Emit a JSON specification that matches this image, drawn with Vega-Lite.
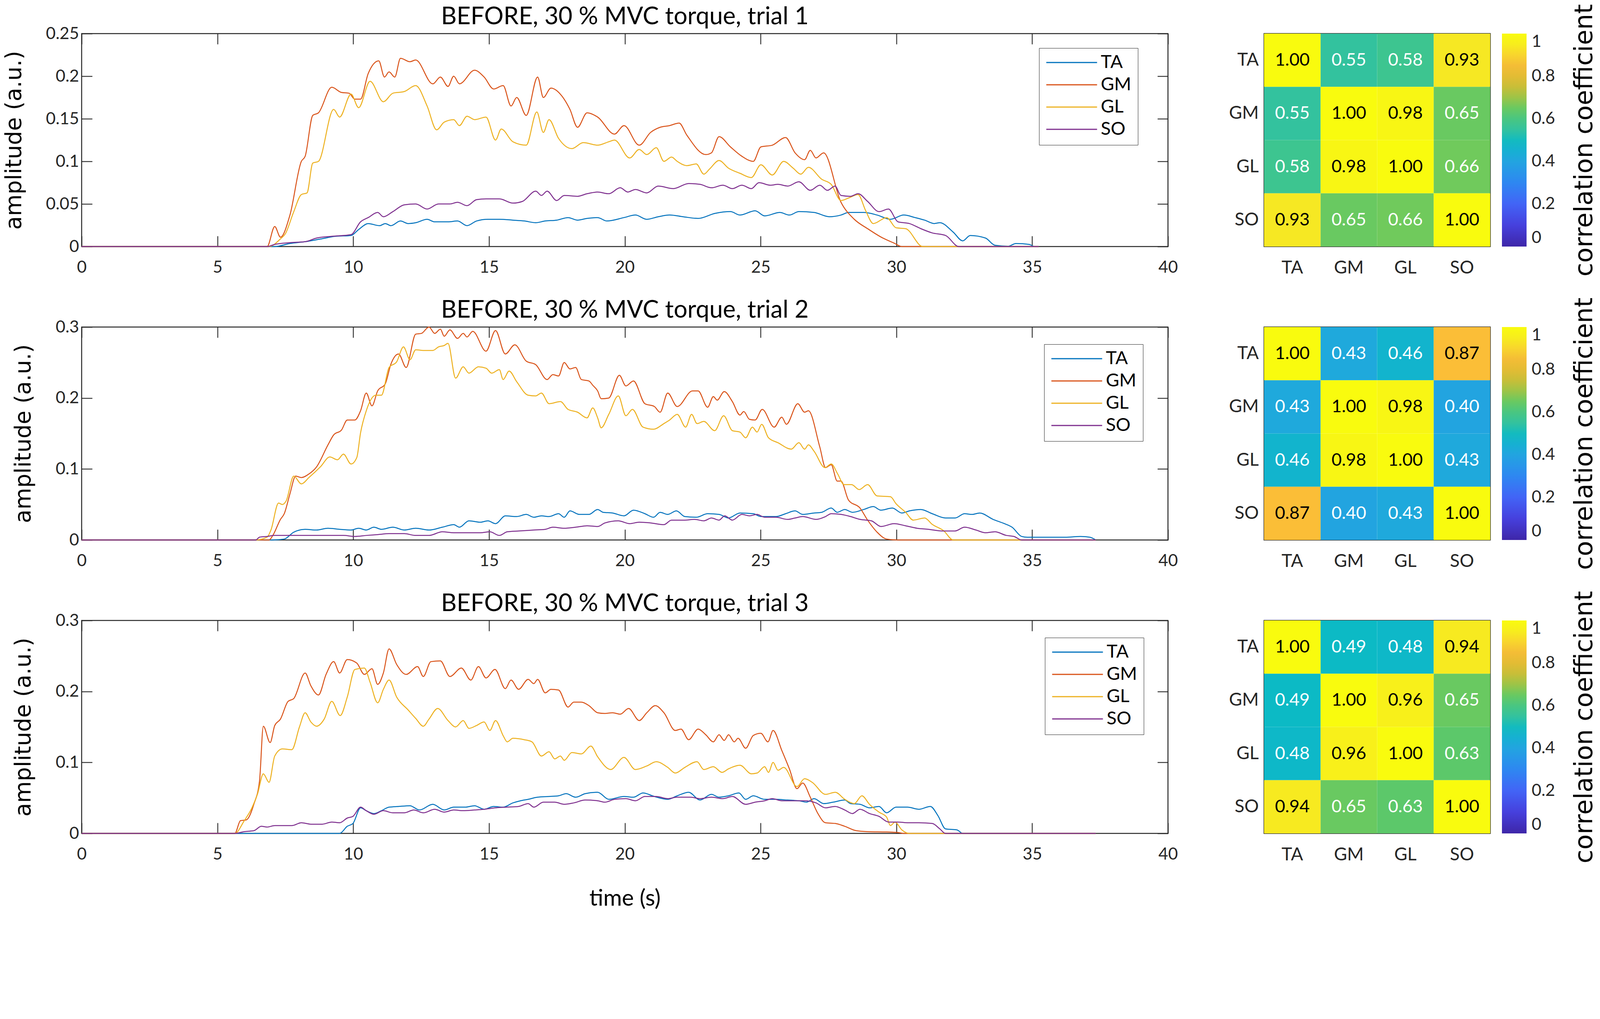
{
  "$schema": "https://vega.github.io/schema/vega-lite/v6.json",
  "background": "white",
  "padding": {"left": 5, "top": 10, "right": 0, "bottom": 0},
  "spacing": 51,
  "config": {
    "font": "Lato",
    "view": {"stroke": "#262626", "strokeWidth": 2.5},
    "axis": {"labelFont": "Lato", "labelFontSize": 43, "labelColor": "#262626", "titleFont": "Lato", "titleFontWeight": "normal", "titleColor": "#000000", "tickColor": "#262626", "tickWidth": 2.2, "domain": false, "grid": false},
    "title": {"font": "Lato", "fontSize": 62, "fontWeight": "normal", "color": "#000000", "offset": -10, "frame": "group"}
  },
  "datasets": {
    "corr": [
      {"trial":1,"row":"TA","col":"TA","r":1.00},{"trial":1,"row":"TA","col":"GM","r":0.55},{"trial":1,"row":"TA","col":"GL","r":0.58},{"trial":1,"row":"TA","col":"SO","r":0.93},
      {"trial":1,"row":"GM","col":"TA","r":0.55},{"trial":1,"row":"GM","col":"GM","r":1.00},{"trial":1,"row":"GM","col":"GL","r":0.98},{"trial":1,"row":"GM","col":"SO","r":0.65},
      {"trial":1,"row":"GL","col":"TA","r":0.58},{"trial":1,"row":"GL","col":"GM","r":0.98},{"trial":1,"row":"GL","col":"GL","r":1.00},{"trial":1,"row":"GL","col":"SO","r":0.66},
      {"trial":1,"row":"SO","col":"TA","r":0.93},{"trial":1,"row":"SO","col":"GM","r":0.65},{"trial":1,"row":"SO","col":"GL","r":0.66},{"trial":1,"row":"SO","col":"SO","r":1.00},
      {"trial":2,"row":"TA","col":"TA","r":1.00},{"trial":2,"row":"TA","col":"GM","r":0.43},{"trial":2,"row":"TA","col":"GL","r":0.46},{"trial":2,"row":"TA","col":"SO","r":0.87},
      {"trial":2,"row":"GM","col":"TA","r":0.43},{"trial":2,"row":"GM","col":"GM","r":1.00},{"trial":2,"row":"GM","col":"GL","r":0.98},{"trial":2,"row":"GM","col":"SO","r":0.40},
      {"trial":2,"row":"GL","col":"TA","r":0.46},{"trial":2,"row":"GL","col":"GM","r":0.98},{"trial":2,"row":"GL","col":"GL","r":1.00},{"trial":2,"row":"GL","col":"SO","r":0.43},
      {"trial":2,"row":"SO","col":"TA","r":0.87},{"trial":2,"row":"SO","col":"GM","r":0.40},{"trial":2,"row":"SO","col":"GL","r":0.43},{"trial":2,"row":"SO","col":"SO","r":1.00},
      {"trial":3,"row":"TA","col":"TA","r":1.00},{"trial":3,"row":"TA","col":"GM","r":0.49},{"trial":3,"row":"TA","col":"GL","r":0.48},{"trial":3,"row":"TA","col":"SO","r":0.94},
      {"trial":3,"row":"GM","col":"TA","r":0.49},{"trial":3,"row":"GM","col":"GM","r":1.00},{"trial":3,"row":"GM","col":"GL","r":0.96},{"trial":3,"row":"GM","col":"SO","r":0.65},
      {"trial":3,"row":"GL","col":"TA","r":0.48},{"trial":3,"row":"GL","col":"GM","r":0.96},{"trial":3,"row":"GL","col":"GL","r":1.00},{"trial":3,"row":"GL","col":"SO","r":0.63},
      {"trial":3,"row":"SO","col":"TA","r":0.94},{"trial":3,"row":"SO","col":"GM","r":0.65},{"trial":3,"row":"SO","col":"GL","r":0.63},{"trial":3,"row":"SO","col":"SO","r":1.00}
    ],
    "lines": [
      {"trial":1,"muscle":"TA","t":0,"amp":0},{"trial":1,"muscle":"TA","t":7.11,"amp":0},{"trial":1,"muscle":"TA","t":7.67,"amp":0.0036},{"trial":1,"muscle":"TA","t":8.23,"amp":0.0057},{"trial":1,"muscle":"TA","t":8.79,"amp":0.0088},{"trial":1,"muscle":"TA","t":9.35,"amp":0.012},{"trial":1,"muscle":"TA","t":9.92,"amp":0.013},{"trial":1,"muscle":"TA","t":10.2,"amp":0.02},{"trial":1,"muscle":"TA","t":10.55,"amp":0.027},{"trial":1,"muscle":"TA","t":10.97,"amp":0.0245},{"trial":1,"muscle":"TA","t":11.18,"amp":0.027},{"trial":1,"muscle":"TA","t":11.39,"amp":0.0245},{"trial":1,"muscle":"TA","t":11.74,"amp":0.03},{"trial":1,"muscle":"TA","t":12.02,"amp":0.027},{"trial":1,"muscle":"TA","t":12.3,"amp":0.028},{"trial":1,"muscle":"TA","t":12.72,"amp":0.032},{"trial":1,"muscle":"TA","t":13.0,"amp":0.029},{"trial":1,"muscle":"TA","t":13.49,"amp":0.029},{"trial":1,"muscle":"TA","t":13.84,"amp":0.03},{"trial":1,"muscle":"TA","t":14.19,"amp":0.0245},{"trial":1,"muscle":"TA","t":14.54,"amp":0.03},{"trial":1,"muscle":"TA","t":14.96,"amp":0.032},{"trial":1,"muscle":"TA","t":15.38,"amp":0.032},{"trial":1,"muscle":"TA","t":15.88,"amp":0.031},{"trial":1,"muscle":"TA","t":16.3,"amp":0.03},{"trial":1,"muscle":"TA","t":16.72,"amp":0.028},{"trial":1,"muscle":"TA","t":17.07,"amp":0.03},{"trial":1,"muscle":"TA","t":17.49,"amp":0.031},{"trial":1,"muscle":"TA","t":17.91,"amp":0.034},{"trial":1,"muscle":"TA","t":18.26,"amp":0.031},{"trial":1,"muscle":"TA","t":18.61,"amp":0.033},{"trial":1,"muscle":"TA","t":19.0,"amp":0.034},{"trial":1,"muscle":"TA","t":19.34,"amp":0.03},{"trial":1,"muscle":"TA","t":19.97,"amp":0.034},{"trial":1,"muscle":"TA","t":20.39,"amp":0.037},{"trial":1,"muscle":"TA","t":20.81,"amp":0.032},{"trial":1,"muscle":"TA","t":21.23,"amp":0.035},{"trial":1,"muscle":"TA","t":21.65,"amp":0.037},{"trial":1,"muscle":"TA","t":22.14,"amp":0.035},{"trial":1,"muscle":"TA","t":22.7,"amp":0.033},{"trial":1,"muscle":"TA","t":23.33,"amp":0.039},{"trial":1,"muscle":"TA","t":23.89,"amp":0.041},{"trial":1,"muscle":"TA","t":24.24,"amp":0.037},{"trial":1,"muscle":"TA","t":24.8,"amp":0.042},{"trial":1,"muscle":"TA","t":25.15,"amp":0.036},{"trial":1,"muscle":"TA","t":25.71,"amp":0.04},{"trial":1,"muscle":"TA","t":26.06,"amp":0.037},{"trial":1,"muscle":"TA","t":26.41,"amp":0.041},{"trial":1,"muscle":"TA","t":26.97,"amp":0.04},{"trial":1,"muscle":"TA","t":27.53,"amp":0.035},{"trial":1,"muscle":"TA","t":27.96,"amp":0.037},{"trial":1,"muscle":"TA","t":28.24,"amp":0.04},{"trial":1,"muscle":"TA","t":28.8,"amp":0.04},{"trial":1,"muscle":"TA","t":29.29,"amp":0.037},{"trial":1,"muscle":"TA","t":29.78,"amp":0.032},{"trial":1,"muscle":"TA","t":30.27,"amp":0.037},{"trial":1,"muscle":"TA","t":30.69,"amp":0.034},{"trial":1,"muscle":"TA","t":31.04,"amp":0.031},{"trial":1,"muscle":"TA","t":31.39,"amp":0.027},{"trial":1,"muscle":"TA","t":31.6,"amp":0.028},{"trial":1,"muscle":"TA","t":32.09,"amp":0.017},{"trial":1,"muscle":"TA","t":32.44,"amp":0.0067},{"trial":1,"muscle":"TA","t":32.72,"amp":0.013},{"trial":1,"muscle":"TA","t":33.28,"amp":0.01},{"trial":1,"muscle":"TA","t":33.63,"amp":0.0015},{"trial":1,"muscle":"TA","t":34.12,"amp":0.0004},{"trial":1,"muscle":"TA","t":34.4,"amp":0.0036},{"trial":1,"muscle":"TA","t":34.89,"amp":0.0025},{"trial":1,"muscle":"TA","t":35.1,"amp":0},{"trial":1,"muscle":"TA","t":35.24,"amp":0},
      {"trial":1,"muscle":"GM","t":0,"amp":0},{"trial":1,"muscle":"GM","t":6.83,"amp":0},{"trial":1,"muscle":"GM","t":7.11,"amp":0.0235},{"trial":1,"muscle":"GM","t":7.32,"amp":0.011},{"trial":1,"muscle":"GM","t":7.67,"amp":0.037},{"trial":1,"muscle":"GM","t":8.09,"amp":0.1},{"trial":1,"muscle":"GM","t":8.23,"amp":0.106},{"trial":1,"muscle":"GM","t":8.51,"amp":0.154},{"trial":1,"muscle":"GM","t":8.72,"amp":0.157},{"trial":1,"muscle":"GM","t":9.21,"amp":0.187},{"trial":1,"muscle":"GM","t":9.56,"amp":0.181},{"trial":1,"muscle":"GM","t":9.85,"amp":0.18},{"trial":1,"muscle":"GM","t":10.06,"amp":0.173},{"trial":1,"muscle":"GM","t":10.27,"amp":0.173},{"trial":1,"muscle":"GM","t":10.55,"amp":0.203},{"trial":1,"muscle":"GM","t":10.94,"amp":0.218},{"trial":1,"muscle":"GM","t":11.15,"amp":0.199},{"trial":1,"muscle":"GM","t":11.32,"amp":0.205},{"trial":1,"muscle":"GM","t":11.53,"amp":0.199},{"trial":1,"muscle":"GM","t":11.74,"amp":0.221},{"trial":1,"muscle":"GM","t":12.09,"amp":0.217},{"trial":1,"muscle":"GM","t":12.3,"amp":0.219},{"trial":1,"muscle":"GM","t":12.93,"amp":0.191},{"trial":1,"muscle":"GM","t":13.21,"amp":0.199},{"trial":1,"muscle":"GM","t":13.49,"amp":0.188},{"trial":1,"muscle":"GM","t":13.7,"amp":0.2},{"trial":1,"muscle":"GM","t":13.91,"amp":0.191},{"trial":1,"muscle":"GM","t":14.47,"amp":0.207},{"trial":1,"muscle":"GM","t":14.82,"amp":0.199},{"trial":1,"muscle":"GM","t":15.17,"amp":0.185},{"trial":1,"muscle":"GM","t":15.52,"amp":0.189},{"trial":1,"muscle":"GM","t":15.81,"amp":0.165},{"trial":1,"muscle":"GM","t":16.02,"amp":0.175},{"trial":1,"muscle":"GM","t":16.37,"amp":0.154},{"trial":1,"muscle":"GM","t":16.79,"amp":0.199},{"trial":1,"muscle":"GM","t":17.0,"amp":0.175},{"trial":1,"muscle":"GM","t":17.28,"amp":0.186},{"trial":1,"muscle":"GM","t":17.7,"amp":0.176},{"trial":1,"muscle":"GM","t":17.98,"amp":0.161},{"trial":1,"muscle":"GM","t":18.26,"amp":0.14},{"trial":1,"muscle":"GM","t":18.61,"amp":0.157},{"trial":1,"muscle":"GM","t":19.0,"amp":0.152},{"trial":1,"muscle":"GM","t":19.62,"amp":0.132},{"trial":1,"muscle":"GM","t":19.97,"amp":0.142},{"trial":1,"muscle":"GM","t":20.53,"amp":0.119},{"trial":1,"muscle":"GM","t":20.95,"amp":0.134},{"trial":1,"muscle":"GM","t":21.3,"amp":0.14},{"trial":1,"muscle":"GM","t":21.65,"amp":0.142},{"trial":1,"muscle":"GM","t":22.0,"amp":0.145},{"trial":1,"muscle":"GM","t":22.28,"amp":0.131},{"trial":1,"muscle":"GM","t":22.98,"amp":0.108},{"trial":1,"muscle":"GM","t":23.19,"amp":0.11},{"trial":1,"muscle":"GM","t":23.47,"amp":0.129},{"trial":1,"muscle":"GM","t":23.89,"amp":0.117},{"trial":1,"muscle":"GM","t":24.31,"amp":0.106},{"trial":1,"muscle":"GM","t":24.73,"amp":0.1},{"trial":1,"muscle":"GM","t":25.01,"amp":0.117},{"trial":1,"muscle":"GM","t":25.43,"amp":0.119},{"trial":1,"muscle":"GM","t":25.92,"amp":0.128},{"trial":1,"muscle":"GM","t":26.27,"amp":0.11},{"trial":1,"muscle":"GM","t":26.62,"amp":0.102},{"trial":1,"muscle":"GM","t":26.83,"amp":0.113},{"trial":1,"muscle":"GM","t":27.04,"amp":0.104},{"trial":1,"muscle":"GM","t":27.32,"amp":0.11},{"trial":1,"muscle":"GM","t":27.96,"amp":0.052},{"trial":1,"muscle":"GM","t":28.45,"amp":0.032},{"trial":1,"muscle":"GM","t":28.94,"amp":0.021},{"trial":1,"muscle":"GM","t":29.5,"amp":0.01},{"trial":1,"muscle":"GM","t":29.92,"amp":0.004},{"trial":1,"muscle":"GM","t":30.2,"amp":0},{"trial":1,"muscle":"GM","t":35.24,"amp":0},
      {"trial":1,"muscle":"GL","t":0,"amp":0},{"trial":1,"muscle":"GL","t":6.9,"amp":0},{"trial":1,"muscle":"GL","t":7.32,"amp":0.009},{"trial":1,"muscle":"GL","t":7.5,"amp":0.015},{"trial":1,"muscle":"GL","t":7.8,"amp":0.04},{"trial":1,"muscle":"GL","t":8.09,"amp":0.061},{"trial":1,"muscle":"GL","t":8.3,"amp":0.063},{"trial":1,"muscle":"GL","t":8.51,"amp":0.098},{"trial":1,"muscle":"GL","t":8.72,"amp":0.1},{"trial":1,"muscle":"GL","t":9.28,"amp":0.161},{"trial":1,"muscle":"GL","t":9.5,"amp":0.152},{"trial":1,"muscle":"GL","t":9.92,"amp":0.179},{"trial":1,"muscle":"GL","t":10.2,"amp":0.163},{"trial":1,"muscle":"GL","t":10.62,"amp":0.194},{"trial":1,"muscle":"GL","t":11.11,"amp":0.17},{"trial":1,"muscle":"GL","t":11.46,"amp":0.18},{"trial":1,"muscle":"GL","t":11.88,"amp":0.182},{"trial":1,"muscle":"GL","t":12.3,"amp":0.189},{"trial":1,"muscle":"GL","t":12.72,"amp":0.165},{"trial":1,"muscle":"GL","t":13.07,"amp":0.137},{"trial":1,"muscle":"GL","t":13.35,"amp":0.146},{"trial":1,"muscle":"GL","t":13.7,"amp":0.149},{"trial":1,"muscle":"GL","t":13.91,"amp":0.142},{"trial":1,"muscle":"GL","t":14.19,"amp":0.153},{"trial":1,"muscle":"GL","t":14.47,"amp":0.149},{"trial":1,"muscle":"GL","t":14.89,"amp":0.152},{"trial":1,"muscle":"GL","t":15.24,"amp":0.125},{"trial":1,"muscle":"GL","t":15.45,"amp":0.138},{"trial":1,"muscle":"GL","t":15.88,"amp":0.123},{"trial":1,"muscle":"GL","t":16.37,"amp":0.119},{"trial":1,"muscle":"GL","t":16.76,"amp":0.158},{"trial":1,"muscle":"GL","t":17.0,"amp":0.134},{"trial":1,"muscle":"GL","t":17.21,"amp":0.149},{"trial":1,"muscle":"GL","t":17.56,"amp":0.127},{"trial":1,"muscle":"GL","t":18.05,"amp":0.115},{"trial":1,"muscle":"GL","t":18.47,"amp":0.122},{"trial":1,"muscle":"GL","t":19.0,"amp":0.119},{"trial":1,"muscle":"GL","t":19.41,"amp":0.123},{"trial":1,"muscle":"GL","t":19.62,"amp":0.125},{"trial":1,"muscle":"GL","t":20.18,"amp":0.104},{"trial":1,"muscle":"GL","t":20.53,"amp":0.114},{"trial":1,"muscle":"GL","t":20.81,"amp":0.108},{"trial":1,"muscle":"GL","t":21.16,"amp":0.116},{"trial":1,"muscle":"GL","t":21.44,"amp":0.1},{"trial":1,"muscle":"GL","t":21.72,"amp":0.105},{"trial":1,"muscle":"GL","t":21.93,"amp":0.1},{"trial":1,"muscle":"GL","t":22.28,"amp":0.095},{"trial":1,"muscle":"GL","t":22.63,"amp":0.097},{"trial":1,"muscle":"GL","t":22.91,"amp":0.085},{"trial":1,"muscle":"GL","t":23.12,"amp":0.091},{"trial":1,"muscle":"GL","t":23.47,"amp":0.101},{"trial":1,"muscle":"GL","t":23.82,"amp":0.092},{"trial":1,"muscle":"GL","t":24.24,"amp":0.086},{"trial":1,"muscle":"GL","t":24.66,"amp":0.081},{"trial":1,"muscle":"GL","t":25.01,"amp":0.096},{"trial":1,"muscle":"GL","t":25.43,"amp":0.084},{"trial":1,"muscle":"GL","t":25.85,"amp":0.1},{"trial":1,"muscle":"GL","t":26.2,"amp":0.092},{"trial":1,"muscle":"GL","t":26.48,"amp":0.085},{"trial":1,"muscle":"GL","t":26.76,"amp":0.093},{"trial":1,"muscle":"GL","t":27.25,"amp":0.079},{"trial":1,"muscle":"GL","t":27.6,"amp":0.073},{"trial":1,"muscle":"GL","t":27.96,"amp":0.054},{"trial":1,"muscle":"GL","t":28.24,"amp":0.057},{"trial":1,"muscle":"GL","t":28.59,"amp":0.061},{"trial":1,"muscle":"GL","t":28.87,"amp":0.042},{"trial":1,"muscle":"GL","t":29.15,"amp":0.027},{"trial":1,"muscle":"GL","t":29.64,"amp":0.034},{"trial":1,"muscle":"GL","t":29.99,"amp":0.022},{"trial":1,"muscle":"GL","t":30.34,"amp":0.021},{"trial":1,"muscle":"GL","t":30.97,"amp":0},{"trial":1,"muscle":"GL","t":35.24,"amp":0},
      {"trial":1,"muscle":"SO","t":0,"amp":0},{"trial":1,"muscle":"SO","t":6.83,"amp":0},{"trial":1,"muscle":"SO","t":7.11,"amp":0.0025},{"trial":1,"muscle":"SO","t":7.67,"amp":0.0046},{"trial":1,"muscle":"SO","t":8.23,"amp":0.0057},{"trial":1,"muscle":"SO","t":8.65,"amp":0.01},{"trial":1,"muscle":"SO","t":9.21,"amp":0.012},{"trial":1,"muscle":"SO","t":9.92,"amp":0.014},{"trial":1,"muscle":"SO","t":10.27,"amp":0.029},{"trial":1,"muscle":"SO","t":10.55,"amp":0.034},{"trial":1,"muscle":"SO","t":10.9,"amp":0.04},{"trial":1,"muscle":"SO","t":11.11,"amp":0.035},{"trial":1,"muscle":"SO","t":11.46,"amp":0.041},{"trial":1,"muscle":"SO","t":11.88,"amp":0.049},{"trial":1,"muscle":"SO","t":12.3,"amp":0.05},{"trial":1,"muscle":"SO","t":12.72,"amp":0.044},{"trial":1,"muscle":"SO","t":13.14,"amp":0.05},{"trial":1,"muscle":"SO","t":13.56,"amp":0.05},{"trial":1,"muscle":"SO","t":13.84,"amp":0.052},{"trial":1,"muscle":"SO","t":14.19,"amp":0.048},{"trial":1,"muscle":"SO","t":14.54,"amp":0.055},{"trial":1,"muscle":"SO","t":14.89,"amp":0.056},{"trial":1,"muscle":"SO","t":15.38,"amp":0.056},{"trial":1,"muscle":"SO","t":15.88,"amp":0.051},{"trial":1,"muscle":"SO","t":16.23,"amp":0.053},{"trial":1,"muscle":"SO","t":16.72,"amp":0.065},{"trial":1,"muscle":"SO","t":16.93,"amp":0.06},{"trial":1,"muscle":"SO","t":17.14,"amp":0.065},{"trial":1,"muscle":"SO","t":17.49,"amp":0.054},{"trial":1,"muscle":"SO","t":17.77,"amp":0.06},{"trial":1,"muscle":"SO","t":18.26,"amp":0.059},{"trial":1,"muscle":"SO","t":18.61,"amp":0.062},{"trial":1,"muscle":"SO","t":19.0,"amp":0.064},{"trial":1,"muscle":"SO","t":19.41,"amp":0.062},{"trial":1,"muscle":"SO","t":19.83,"amp":0.069},{"trial":1,"muscle":"SO","t":20.11,"amp":0.064},{"trial":1,"muscle":"SO","t":20.39,"amp":0.067},{"trial":1,"muscle":"SO","t":20.81,"amp":0.063},{"trial":1,"muscle":"SO","t":21.23,"amp":0.071},{"trial":1,"muscle":"SO","t":21.79,"amp":0.068},{"trial":1,"muscle":"SO","t":22.35,"amp":0.074},{"trial":1,"muscle":"SO","t":22.77,"amp":0.073},{"trial":1,"muscle":"SO","t":23.19,"amp":0.069},{"trial":1,"muscle":"SO","t":23.61,"amp":0.072},{"trial":1,"muscle":"SO","t":23.96,"amp":0.068},{"trial":1,"muscle":"SO","t":24.31,"amp":0.072},{"trial":1,"muscle":"SO","t":24.66,"amp":0.068},{"trial":1,"muscle":"SO","t":24.94,"amp":0.075},{"trial":1,"muscle":"SO","t":25.36,"amp":0.072},{"trial":1,"muscle":"SO","t":25.64,"amp":0.073},{"trial":1,"muscle":"SO","t":26.0,"amp":0.071},{"trial":1,"muscle":"SO","t":26.41,"amp":0.076},{"trial":1,"muscle":"SO","t":26.83,"amp":0.066},{"trial":1,"muscle":"SO","t":27.18,"amp":0.072},{"trial":1,"muscle":"SO","t":27.46,"amp":0.066},{"trial":1,"muscle":"SO","t":27.74,"amp":0.071},{"trial":1,"muscle":"SO","t":27.96,"amp":0.06},{"trial":1,"muscle":"SO","t":28.31,"amp":0.059},{"trial":1,"muscle":"SO","t":28.59,"amp":0.062},{"trial":1,"muscle":"SO","t":28.94,"amp":0.053},{"trial":1,"muscle":"SO","t":29.36,"amp":0.041},{"trial":1,"muscle":"SO","t":29.71,"amp":0.044},{"trial":1,"muscle":"SO","t":30.06,"amp":0.029},{"trial":1,"muscle":"SO","t":30.48,"amp":0.027},{"trial":1,"muscle":"SO","t":30.9,"amp":0.021},{"trial":1,"muscle":"SO","t":31.32,"amp":0.016},{"trial":1,"muscle":"SO","t":31.81,"amp":0.013},{"trial":1,"muscle":"SO","t":32.3,"amp":0},{"trial":1,"muscle":"SO","t":35.24,"amp":0},
      {"trial":2,"muscle":"TA","t":0,"amp":0},{"trial":2,"muscle":"TA","t":7.04,"amp":0},{"trial":2,"muscle":"TA","t":7.46,"amp":0.0013},{"trial":2,"muscle":"TA","t":7.81,"amp":0.011},{"trial":2,"muscle":"TA","t":8.23,"amp":0.015},{"trial":2,"muscle":"TA","t":8.65,"amp":0.014},{"trial":2,"muscle":"TA","t":9.07,"amp":0.0165},{"trial":2,"muscle":"TA","t":9.5,"amp":0.015},{"trial":2,"muscle":"TA","t":9.92,"amp":0.014},{"trial":2,"muscle":"TA","t":10.2,"amp":0.0165},{"trial":2,"muscle":"TA","t":10.48,"amp":0.014},{"trial":2,"muscle":"TA","t":10.76,"amp":0.018},{"trial":2,"muscle":"TA","t":11.04,"amp":0.015},{"trial":2,"muscle":"TA","t":11.46,"amp":0.018},{"trial":2,"muscle":"TA","t":11.88,"amp":0.014},{"trial":2,"muscle":"TA","t":12.3,"amp":0.0165},{"trial":2,"muscle":"TA","t":12.79,"amp":0.014},{"trial":2,"muscle":"TA","t":13.28,"amp":0.018},{"trial":2,"muscle":"TA","t":13.7,"amp":0.0216},{"trial":2,"muscle":"TA","t":13.91,"amp":0.018},{"trial":2,"muscle":"TA","t":14.26,"amp":0.027},{"trial":2,"muscle":"TA","t":14.68,"amp":0.025},{"trial":2,"muscle":"TA","t":14.96,"amp":0.027},{"trial":2,"muscle":"TA","t":15.24,"amp":0.023},{"trial":2,"muscle":"TA","t":15.6,"amp":0.034},{"trial":2,"muscle":"TA","t":16.02,"amp":0.033},{"trial":2,"muscle":"TA","t":16.37,"amp":0.036},{"trial":2,"muscle":"TA","t":16.65,"amp":0.032},{"trial":2,"muscle":"TA","t":16.93,"amp":0.034},{"trial":2,"muscle":"TA","t":17.21,"amp":0.033},{"trial":2,"muscle":"TA","t":17.56,"amp":0.037},{"trial":2,"muscle":"TA","t":17.77,"amp":0.032},{"trial":2,"muscle":"TA","t":17.98,"amp":0.041},{"trial":2,"muscle":"TA","t":18.33,"amp":0.036},{"trial":2,"muscle":"TA","t":18.68,"amp":0.036},{"trial":2,"muscle":"TA","t":19.0,"amp":0.043},{"trial":2,"muscle":"TA","t":19.2,"amp":0.039},{"trial":2,"muscle":"TA","t":19.55,"amp":0.038},{"trial":2,"muscle":"TA","t":19.97,"amp":0.034},{"trial":2,"muscle":"TA","t":20.32,"amp":0.042},{"trial":2,"muscle":"TA","t":20.74,"amp":0.037},{"trial":2,"muscle":"TA","t":21.06,"amp":0.032},{"trial":2,"muscle":"TA","t":21.3,"amp":0.039},{"trial":2,"muscle":"TA","t":21.58,"amp":0.036},{"trial":2,"muscle":"TA","t":21.9,"amp":0.041},{"trial":2,"muscle":"TA","t":22.21,"amp":0.033},{"trial":2,"muscle":"TA","t":22.63,"amp":0.032},{"trial":2,"muscle":"TA","t":23.05,"amp":0.037},{"trial":2,"muscle":"TA","t":23.47,"amp":0.036},{"trial":2,"muscle":"TA","t":23.82,"amp":0.031},{"trial":2,"muscle":"TA","t":24.24,"amp":0.038},{"trial":2,"muscle":"TA","t":24.73,"amp":0.037},{"trial":2,"muscle":"TA","t":25.01,"amp":0.033},{"trial":2,"muscle":"TA","t":25.57,"amp":0.033},{"trial":2,"muscle":"TA","t":25.92,"amp":0.037},{"trial":2,"muscle":"TA","t":26.27,"amp":0.041},{"trial":2,"muscle":"TA","t":26.55,"amp":0.036},{"trial":2,"muscle":"TA","t":26.97,"amp":0.038},{"trial":2,"muscle":"TA","t":27.25,"amp":0.039},{"trial":2,"muscle":"TA","t":27.6,"amp":0.045},{"trial":2,"muscle":"TA","t":27.82,"amp":0.039},{"trial":2,"muscle":"TA","t":28.1,"amp":0.043},{"trial":2,"muscle":"TA","t":28.38,"amp":0.039},{"trial":2,"muscle":"TA","t":28.8,"amp":0.043},{"trial":2,"muscle":"TA","t":29.15,"amp":0.047},{"trial":2,"muscle":"TA","t":29.43,"amp":0.042},{"trial":2,"muscle":"TA","t":29.85,"amp":0.045},{"trial":2,"muscle":"TA","t":30.2,"amp":0.038},{"trial":2,"muscle":"TA","t":30.48,"amp":0.041},{"trial":2,"muscle":"TA","t":30.9,"amp":0.043},{"trial":2,"muscle":"TA","t":31.32,"amp":0.037},{"trial":2,"muscle":"TA","t":31.81,"amp":0.031},{"trial":2,"muscle":"TA","t":32.16,"amp":0.031},{"trial":2,"muscle":"TA","t":32.51,"amp":0.037},{"trial":2,"muscle":"TA","t":32.79,"amp":0.036},{"trial":2,"muscle":"TA","t":33.07,"amp":0.038},{"trial":2,"muscle":"TA","t":33.56,"amp":0.029},{"trial":2,"muscle":"TA","t":33.98,"amp":0.023},{"trial":2,"muscle":"TA","t":34.26,"amp":0.018},{"trial":2,"muscle":"TA","t":34.61,"amp":0.005},{"trial":2,"muscle":"TA","t":34.82,"amp":0.0038},{"trial":2,"muscle":"TA","t":35.52,"amp":0.0038},{"trial":2,"muscle":"TA","t":36.22,"amp":0.0038},{"trial":2,"muscle":"TA","t":36.78,"amp":0.005},{"trial":2,"muscle":"TA","t":37.13,"amp":0.0038},{"trial":2,"muscle":"TA","t":37.34,"amp":0},
      {"trial":2,"muscle":"GM","t":0,"amp":0},{"trial":2,"muscle":"GM","t":6.9,"amp":0},{"trial":2,"muscle":"GM","t":7.04,"amp":0.0064},{"trial":2,"muscle":"GM","t":7.32,"amp":0.029},{"trial":2,"muscle":"GM","t":7.46,"amp":0.037},{"trial":2,"muscle":"GM","t":7.67,"amp":0.065},{"trial":2,"muscle":"GM","t":7.88,"amp":0.09},{"trial":2,"muscle":"GM","t":8.09,"amp":0.088},{"trial":2,"muscle":"GM","t":8.37,"amp":0.093},{"trial":2,"muscle":"GM","t":8.65,"amp":0.103},{"trial":2,"muscle":"GM","t":9.07,"amp":0.134},{"trial":2,"muscle":"GM","t":9.28,"amp":0.148},{"trial":2,"muscle":"GM","t":9.57,"amp":0.155},{"trial":2,"muscle":"GM","t":9.78,"amp":0.169},{"trial":2,"muscle":"GM","t":10.06,"amp":0.169},{"trial":2,"muscle":"GM","t":10.27,"amp":0.182},{"trial":2,"muscle":"GM","t":10.48,"amp":0.207},{"trial":2,"muscle":"GM","t":10.69,"amp":0.189},{"trial":2,"muscle":"GM","t":10.9,"amp":0.21},{"trial":2,"muscle":"GM","t":11.18,"amp":0.22},{"trial":2,"muscle":"GM","t":11.39,"amp":0.248},{"trial":2,"muscle":"GM","t":11.67,"amp":0.262},{"trial":2,"muscle":"GM","t":11.95,"amp":0.243},{"trial":2,"muscle":"GM","t":12.3,"amp":0.29},{"trial":2,"muscle":"GM","t":12.51,"amp":0.291},{"trial":2,"muscle":"GM","t":12.79,"amp":0.3},{"trial":2,"muscle":"GM","t":13.0,"amp":0.291},{"trial":2,"muscle":"GM","t":13.21,"amp":0.297},{"trial":2,"muscle":"GM","t":13.35,"amp":0.287},{"trial":2,"muscle":"GM","t":13.56,"amp":0.296},{"trial":2,"muscle":"GM","t":13.84,"amp":0.284},{"trial":2,"muscle":"GM","t":14.05,"amp":0.291},{"trial":2,"muscle":"GM","t":14.19,"amp":0.286},{"trial":2,"muscle":"GM","t":14.4,"amp":0.294},{"trial":2,"muscle":"GM","t":14.89,"amp":0.266},{"trial":2,"muscle":"GM","t":15.24,"amp":0.295},{"trial":2,"muscle":"GM","t":15.6,"amp":0.262},{"trial":2,"muscle":"GM","t":15.95,"amp":0.275},{"trial":2,"muscle":"GM","t":16.37,"amp":0.252},{"trial":2,"muscle":"GM","t":16.72,"amp":0.247},{"trial":2,"muscle":"GM","t":17.14,"amp":0.226},{"trial":2,"muscle":"GM","t":17.35,"amp":0.233},{"trial":2,"muscle":"GM","t":17.56,"amp":0.231},{"trial":2,"muscle":"GM","t":17.77,"amp":0.25},{"trial":2,"muscle":"GM","t":17.98,"amp":0.241},{"trial":2,"muscle":"GM","t":18.19,"amp":0.243},{"trial":2,"muscle":"GM","t":18.4,"amp":0.226},{"trial":2,"muscle":"GM","t":18.68,"amp":0.224},{"trial":2,"muscle":"GM","t":18.82,"amp":0.218},{"trial":2,"muscle":"GM","t":19.0,"amp":0.21},{"trial":2,"muscle":"GM","t":19.13,"amp":0.199},{"trial":2,"muscle":"GM","t":19.41,"amp":0.2},{"trial":2,"muscle":"GM","t":19.8,"amp":0.232},{"trial":2,"muscle":"GM","t":20.04,"amp":0.217},{"trial":2,"muscle":"GM","t":20.32,"amp":0.224},{"trial":2,"muscle":"GM","t":20.74,"amp":0.192},{"trial":2,"muscle":"GM","t":21.09,"amp":0.188},{"trial":2,"muscle":"GM","t":21.3,"amp":0.18},{"trial":2,"muscle":"GM","t":21.58,"amp":0.207},{"trial":2,"muscle":"GM","t":21.93,"amp":0.188},{"trial":2,"muscle":"GM","t":22.49,"amp":0.21},{"trial":2,"muscle":"GM","t":22.7,"amp":0.21},{"trial":2,"muscle":"GM","t":23.05,"amp":0.187},{"trial":2,"muscle":"GM","t":23.26,"amp":0.202},{"trial":2,"muscle":"GM","t":23.4,"amp":0.197},{"trial":2,"muscle":"GM","t":23.66,"amp":0.209},{"trial":2,"muscle":"GM","t":23.96,"amp":0.195},{"trial":2,"muscle":"GM","t":24.24,"amp":0.176},{"trial":2,"muscle":"GM","t":24.38,"amp":0.181},{"trial":2,"muscle":"GM","t":24.59,"amp":0.17},{"trial":2,"muscle":"GM","t":24.8,"amp":0.169},{"trial":2,"muscle":"GM","t":25.06,"amp":0.184},{"trial":2,"muscle":"GM","t":25.5,"amp":0.159},{"trial":2,"muscle":"GM","t":25.78,"amp":0.173},{"trial":2,"muscle":"GM","t":25.95,"amp":0.163},{"trial":2,"muscle":"GM","t":26.37,"amp":0.192},{"trial":2,"muscle":"GM","t":26.62,"amp":0.18},{"trial":2,"muscle":"GM","t":26.76,"amp":0.182},{"trial":2,"muscle":"GM","t":27.18,"amp":0.131},{"trial":2,"muscle":"GM","t":27.39,"amp":0.102},{"trial":2,"muscle":"GM","t":27.6,"amp":0.106},{"trial":2,"muscle":"GM","t":27.82,"amp":0.083},{"trial":2,"muscle":"GM","t":27.96,"amp":0.083},{"trial":2,"muscle":"GM","t":28.24,"amp":0.056},{"trial":2,"muscle":"GM","t":28.66,"amp":0.045},{"trial":2,"muscle":"GM","t":28.94,"amp":0.028},{"trial":2,"muscle":"GM","t":29.29,"amp":0.011},{"trial":2,"muscle":"GM","t":29.64,"amp":0.0013},{"trial":2,"muscle":"GM","t":30.06,"amp":0},{"trial":2,"muscle":"GM","t":37.34,"amp":0},
      {"trial":2,"muscle":"GL","t":0,"amp":0},{"trial":2,"muscle":"GL","t":6.41,"amp":0},{"trial":2,"muscle":"GL","t":6.83,"amp":0.004},{"trial":2,"muscle":"GL","t":6.97,"amp":0.014},{"trial":2,"muscle":"GL","t":7.25,"amp":0.052},{"trial":2,"muscle":"GL","t":7.39,"amp":0.05},{"trial":2,"muscle":"GL","t":7.53,"amp":0.055},{"trial":2,"muscle":"GL","t":7.81,"amp":0.09},{"trial":2,"muscle":"GL","t":8.09,"amp":0.079},{"trial":2,"muscle":"GL","t":8.37,"amp":0.088},{"trial":2,"muscle":"GL","t":8.79,"amp":0.103},{"trial":2,"muscle":"GL","t":9.14,"amp":0.117},{"trial":2,"muscle":"GL","t":9.42,"amp":0.113},{"trial":2,"muscle":"GL","t":9.64,"amp":0.121},{"trial":2,"muscle":"GL","t":9.92,"amp":0.107},{"trial":2,"muscle":"GL","t":10.13,"amp":0.116},{"trial":2,"muscle":"GL","t":10.27,"amp":0.151},{"trial":2,"muscle":"GL","t":10.48,"amp":0.182},{"trial":2,"muscle":"GL","t":10.83,"amp":0.204},{"trial":2,"muscle":"GL","t":11.04,"amp":0.204},{"trial":2,"muscle":"GL","t":11.32,"amp":0.243},{"trial":2,"muscle":"GL","t":11.6,"amp":0.251},{"trial":2,"muscle":"GL","t":11.85,"amp":0.272},{"trial":2,"muscle":"GL","t":12.09,"amp":0.254},{"trial":2,"muscle":"GL","t":12.3,"amp":0.268},{"trial":2,"muscle":"GL","t":12.58,"amp":0.267},{"trial":2,"muscle":"GL","t":12.93,"amp":0.267},{"trial":2,"muscle":"GL","t":13.14,"amp":0.272},{"trial":2,"muscle":"GL","t":13.35,"amp":0.274},{"trial":2,"muscle":"GL","t":13.49,"amp":0.277},{"trial":2,"muscle":"GL","t":13.77,"amp":0.228},{"trial":2,"muscle":"GL","t":14.05,"amp":0.244},{"trial":2,"muscle":"GL","t":14.26,"amp":0.235},{"trial":2,"muscle":"GL","t":14.61,"amp":0.244},{"trial":2,"muscle":"GL","t":14.89,"amp":0.242},{"trial":2,"muscle":"GL","t":15.1,"amp":0.235},{"trial":2,"muscle":"GL","t":15.38,"amp":0.24},{"trial":2,"muscle":"GL","t":15.52,"amp":0.226},{"trial":2,"muscle":"GL","t":15.74,"amp":0.238},{"trial":2,"muscle":"GL","t":16.02,"amp":0.223},{"trial":2,"muscle":"GL","t":16.44,"amp":0.204},{"trial":2,"muscle":"GL","t":16.72,"amp":0.203},{"trial":2,"muscle":"GL","t":16.93,"amp":0.207},{"trial":2,"muscle":"GL","t":17.21,"amp":0.192},{"trial":2,"muscle":"GL","t":17.63,"amp":0.195},{"trial":2,"muscle":"GL","t":17.91,"amp":0.184},{"trial":2,"muscle":"GL","t":18.26,"amp":0.18},{"trial":2,"muscle":"GL","t":18.61,"amp":0.172},{"trial":2,"muscle":"GL","t":18.82,"amp":0.186},{"trial":2,"muscle":"GL","t":19.0,"amp":0.172},{"trial":2,"muscle":"GL","t":19.13,"amp":0.158},{"trial":2,"muscle":"GL","t":19.41,"amp":0.177},{"trial":2,"muscle":"GL","t":19.76,"amp":0.203},{"trial":2,"muscle":"GL","t":20.04,"amp":0.175},{"trial":2,"muscle":"GL","t":20.28,"amp":0.184},{"trial":2,"muscle":"GL","t":20.67,"amp":0.159},{"trial":2,"muscle":"GL","t":21.06,"amp":0.156},{"trial":2,"muscle":"GL","t":21.44,"amp":0.164},{"trial":2,"muscle":"GL","t":21.65,"amp":0.169},{"trial":2,"muscle":"GL","t":21.93,"amp":0.177},{"trial":2,"muscle":"GL","t":22.24,"amp":0.159},{"trial":2,"muscle":"GL","t":22.46,"amp":0.177},{"trial":2,"muscle":"GL","t":22.66,"amp":0.164},{"trial":2,"muscle":"GL","t":22.91,"amp":0.167},{"trial":2,"muscle":"GL","t":23.31,"amp":0.154},{"trial":2,"muscle":"GL","t":23.64,"amp":0.175},{"trial":2,"muscle":"GL","t":23.96,"amp":0.154},{"trial":2,"muscle":"GL","t":24.24,"amp":0.152},{"trial":2,"muscle":"GL","t":24.45,"amp":0.144},{"trial":2,"muscle":"GL","t":24.7,"amp":0.159},{"trial":2,"muscle":"GL","t":24.87,"amp":0.152},{"trial":2,"muscle":"GL","t":25.04,"amp":0.163},{"trial":2,"muscle":"GL","t":25.29,"amp":0.144},{"trial":2,"muscle":"GL","t":25.64,"amp":0.137},{"trial":2,"muscle":"GL","t":26.13,"amp":0.128},{"trial":2,"muscle":"GL","t":26.41,"amp":0.137},{"trial":2,"muscle":"GL","t":26.62,"amp":0.128},{"trial":2,"muscle":"GL","t":26.76,"amp":0.134},{"trial":2,"muscle":"GL","t":26.97,"amp":0.125},{"trial":2,"muscle":"GL","t":27.37,"amp":0.102},{"trial":2,"muscle":"GL","t":27.6,"amp":0.107},{"trial":2,"muscle":"GL","t":27.84,"amp":0.093},{"trial":2,"muscle":"GL","t":28.07,"amp":0.078},{"trial":2,"muscle":"GL","t":28.35,"amp":0.078},{"trial":2,"muscle":"GL","t":28.63,"amp":0.071},{"trial":2,"muscle":"GL","t":28.94,"amp":0.078},{"trial":2,"muscle":"GL","t":29.29,"amp":0.062},{"trial":2,"muscle":"GL","t":29.78,"amp":0.061},{"trial":2,"muscle":"GL","t":29.99,"amp":0.051},{"trial":2,"muscle":"GL","t":30.34,"amp":0.039},{"trial":2,"muscle":"GL","t":30.62,"amp":0.028},{"trial":2,"muscle":"GL","t":31.04,"amp":0.031},{"trial":2,"muscle":"GL","t":31.32,"amp":0.022},{"trial":2,"muscle":"GL","t":31.74,"amp":0.013},{"trial":2,"muscle":"GL","t":32.09,"amp":0},{"trial":2,"muscle":"GL","t":37.34,"amp":0},
      {"trial":2,"muscle":"SO","t":0,"amp":0},{"trial":2,"muscle":"SO","t":6.41,"amp":0},{"trial":2,"muscle":"SO","t":6.55,"amp":0.004},{"trial":2,"muscle":"SO","t":6.83,"amp":0.005},{"trial":2,"muscle":"SO","t":7.11,"amp":0.0064},{"trial":2,"muscle":"SO","t":7.67,"amp":0.0064},{"trial":2,"muscle":"SO","t":8.23,"amp":0.0064},{"trial":2,"muscle":"SO","t":8.93,"amp":0.0064},{"trial":2,"muscle":"SO","t":9.64,"amp":0.0064},{"trial":2,"muscle":"SO","t":10.06,"amp":0.005},{"trial":2,"muscle":"SO","t":10.48,"amp":0.0064},{"trial":2,"muscle":"SO","t":10.9,"amp":0.0076},{"trial":2,"muscle":"SO","t":11.32,"amp":0.0089},{"trial":2,"muscle":"SO","t":11.88,"amp":0.0089},{"trial":2,"muscle":"SO","t":12.3,"amp":0.0064},{"trial":2,"muscle":"SO","t":12.79,"amp":0.0064},{"trial":2,"muscle":"SO","t":13.28,"amp":0.0115},{"trial":2,"muscle":"SO","t":13.7,"amp":0.0102},{"trial":2,"muscle":"SO","t":14.12,"amp":0.0102},{"trial":2,"muscle":"SO","t":14.68,"amp":0.0102},{"trial":2,"muscle":"SO","t":15.03,"amp":0.0115},{"trial":2,"muscle":"SO","t":15.38,"amp":0.0064},{"trial":2,"muscle":"SO","t":15.67,"amp":0.0115},{"trial":2,"muscle":"SO","t":16.09,"amp":0.0127},{"trial":2,"muscle":"SO","t":16.65,"amp":0.014},{"trial":2,"muscle":"SO","t":17.07,"amp":0.015},{"trial":2,"muscle":"SO","t":17.35,"amp":0.018},{"trial":2,"muscle":"SO","t":17.77,"amp":0.0165},{"trial":2,"muscle":"SO","t":18.19,"amp":0.018},{"trial":2,"muscle":"SO","t":18.61,"amp":0.02},{"trial":2,"muscle":"SO","t":19.0,"amp":0.019},{"trial":2,"muscle":"SO","t":19.27,"amp":0.024},{"trial":2,"muscle":"SO","t":19.76,"amp":0.027},{"trial":2,"muscle":"SO","t":20.18,"amp":0.023},{"trial":2,"muscle":"SO","t":20.53,"amp":0.025},{"trial":2,"muscle":"SO","t":20.95,"amp":0.024},{"trial":2,"muscle":"SO","t":21.44,"amp":0.0216},{"trial":2,"muscle":"SO","t":21.72,"amp":0.028},{"trial":2,"muscle":"SO","t":22.21,"amp":0.028},{"trial":2,"muscle":"SO","t":22.56,"amp":0.029},{"trial":2,"muscle":"SO","t":22.91,"amp":0.027},{"trial":2,"muscle":"SO","t":23.19,"amp":0.031},{"trial":2,"muscle":"SO","t":23.47,"amp":0.028},{"trial":2,"muscle":"SO","t":23.68,"amp":0.034},{"trial":2,"muscle":"SO","t":23.96,"amp":0.028},{"trial":2,"muscle":"SO","t":24.31,"amp":0.036},{"trial":2,"muscle":"SO","t":24.59,"amp":0.034},{"trial":2,"muscle":"SO","t":24.87,"amp":0.036},{"trial":2,"muscle":"SO","t":25.15,"amp":0.032},{"trial":2,"muscle":"SO","t":25.57,"amp":0.032},{"trial":2,"muscle":"SO","t":25.99,"amp":0.029},{"trial":2,"muscle":"SO","t":26.27,"amp":0.031},{"trial":2,"muscle":"SO","t":26.55,"amp":0.033},{"trial":2,"muscle":"SO","t":27.04,"amp":0.029},{"trial":2,"muscle":"SO","t":27.39,"amp":0.033},{"trial":2,"muscle":"SO","t":27.6,"amp":0.037},{"trial":2,"muscle":"SO","t":27.96,"amp":0.036},{"trial":2,"muscle":"SO","t":28.31,"amp":0.033},{"trial":2,"muscle":"SO","t":28.66,"amp":0.029},{"trial":2,"muscle":"SO","t":29.08,"amp":0.027},{"trial":2,"muscle":"SO","t":29.43,"amp":0.019},{"trial":2,"muscle":"SO","t":29.92,"amp":0.023},{"trial":2,"muscle":"SO","t":30.34,"amp":0.02},{"trial":2,"muscle":"SO","t":30.76,"amp":0.0165},{"trial":2,"muscle":"SO","t":31.18,"amp":0.015},{"trial":2,"muscle":"SO","t":31.67,"amp":0.0127},{"trial":2,"muscle":"SO","t":32.16,"amp":0.0127},{"trial":2,"muscle":"SO","t":32.51,"amp":0.018},{"trial":2,"muscle":"SO","t":32.93,"amp":0.014},{"trial":2,"muscle":"SO","t":33.28,"amp":0.0102},{"trial":2,"muscle":"SO","t":33.63,"amp":0.0115},{"trial":2,"muscle":"SO","t":34.05,"amp":0.0064},{"trial":2,"muscle":"SO","t":34.33,"amp":0.005},{"trial":2,"muscle":"SO","t":34.61,"amp":0},{"trial":2,"muscle":"SO","t":37.34,"amp":0},
      {"trial":3,"muscle":"TA","t":0,"amp":0},{"trial":3,"muscle":"TA","t":9.5,"amp":0},{"trial":3,"muscle":"TA","t":9.78,"amp":0.01},{"trial":3,"muscle":"TA","t":9.99,"amp":0.014},{"trial":3,"muscle":"TA","t":10.27,"amp":0.036},{"trial":3,"muscle":"TA","t":10.48,"amp":0.032},{"trial":3,"muscle":"TA","t":10.76,"amp":0.028},{"trial":3,"muscle":"TA","t":11.04,"amp":0.032},{"trial":3,"muscle":"TA","t":11.32,"amp":0.037},{"trial":3,"muscle":"TA","t":11.67,"amp":0.038},{"trial":3,"muscle":"TA","t":12.09,"amp":0.039},{"trial":3,"muscle":"TA","t":12.44,"amp":0.033},{"trial":3,"muscle":"TA","t":12.93,"amp":0.041},{"trial":3,"muscle":"TA","t":13.35,"amp":0.033},{"trial":3,"muscle":"TA","t":13.7,"amp":0.037},{"trial":3,"muscle":"TA","t":14.12,"amp":0.037},{"trial":3,"muscle":"TA","t":14.47,"amp":0.039},{"trial":3,"muscle":"TA","t":14.82,"amp":0.034},{"trial":3,"muscle":"TA","t":15.17,"amp":0.038},{"trial":3,"muscle":"TA","t":15.52,"amp":0.037},{"trial":3,"muscle":"TA","t":15.88,"amp":0.043},{"trial":3,"muscle":"TA","t":16.16,"amp":0.046},{"trial":3,"muscle":"TA","t":16.44,"amp":0.048},{"trial":3,"muscle":"TA","t":16.79,"amp":0.051},{"trial":3,"muscle":"TA","t":17.21,"amp":0.052},{"trial":3,"muscle":"TA","t":17.56,"amp":0.053},{"trial":3,"muscle":"TA","t":17.84,"amp":0.056},{"trial":3,"muscle":"TA","t":18.19,"amp":0.051},{"trial":3,"muscle":"TA","t":18.54,"amp":0.056},{"trial":3,"muscle":"TA","t":19.0,"amp":0.058},{"trial":3,"muscle":"TA","t":19.41,"amp":0.048},{"trial":3,"muscle":"TA","t":19.97,"amp":0.052},{"trial":3,"muscle":"TA","t":20.32,"amp":0.051},{"trial":3,"muscle":"TA","t":20.67,"amp":0.057},{"trial":3,"muscle":"TA","t":21.09,"amp":0.052},{"trial":3,"muscle":"TA","t":21.58,"amp":0.048},{"trial":3,"muscle":"TA","t":21.93,"amp":0.053},{"trial":3,"muscle":"TA","t":22.35,"amp":0.058},{"trial":3,"muscle":"TA","t":22.77,"amp":0.047},{"trial":3,"muscle":"TA","t":23.19,"amp":0.055},{"trial":3,"muscle":"TA","t":23.47,"amp":0.051},{"trial":3,"muscle":"TA","t":23.82,"amp":0.053},{"trial":3,"muscle":"TA","t":24.2,"amp":0.057},{"trial":3,"muscle":"TA","t":24.45,"amp":0.048},{"trial":3,"muscle":"TA","t":24.73,"amp":0.053},{"trial":3,"muscle":"TA","t":25.15,"amp":0.048},{"trial":3,"muscle":"TA","t":25.57,"amp":0.048},{"trial":3,"muscle":"TA","t":25.99,"amp":0.047},{"trial":3,"muscle":"TA","t":26.41,"amp":0.046},{"trial":3,"muscle":"TA","t":26.69,"amp":0.044},{"trial":3,"muscle":"TA","t":26.97,"amp":0.049},{"trial":3,"muscle":"TA","t":27.32,"amp":0.042},{"trial":3,"muscle":"TA","t":27.67,"amp":0.044},{"trial":3,"muscle":"TA","t":28.1,"amp":0.047},{"trial":3,"muscle":"TA","t":28.31,"amp":0.042},{"trial":3,"muscle":"TA","t":28.66,"amp":0.041},{"trial":3,"muscle":"TA","t":29.01,"amp":0.036},{"trial":3,"muscle":"TA","t":29.36,"amp":0.038},{"trial":3,"muscle":"TA","t":29.64,"amp":0.029},{"trial":3,"muscle":"TA","t":29.99,"amp":0.037},{"trial":3,"muscle":"TA","t":30.41,"amp":0.037},{"trial":3,"muscle":"TA","t":30.83,"amp":0.034},{"trial":3,"muscle":"TA","t":31.25,"amp":0.038},{"trial":3,"muscle":"TA","t":31.53,"amp":0.025},{"trial":3,"muscle":"TA","t":31.81,"amp":0.0063},{"trial":3,"muscle":"TA","t":32.23,"amp":0.005},{"trial":3,"muscle":"TA","t":32.44,"amp":0},{"trial":3,"muscle":"TA","t":37.34,"amp":0},
      {"trial":3,"muscle":"GM","t":0,"amp":0},{"trial":3,"muscle":"GM","t":5.64,"amp":0},{"trial":3,"muscle":"GM","t":5.85,"amp":0.018},{"trial":3,"muscle":"GM","t":6.06,"amp":0.019},{"trial":3,"muscle":"GM","t":6.34,"amp":0.041},{"trial":3,"muscle":"GM","t":6.55,"amp":0.074},{"trial":3,"muscle":"GM","t":6.69,"amp":0.151},{"trial":3,"muscle":"GM","t":6.94,"amp":0.128},{"trial":3,"muscle":"GM","t":7.11,"amp":0.152},{"trial":3,"muscle":"GM","t":7.32,"amp":0.161},{"trial":3,"muscle":"GM","t":7.6,"amp":0.186},{"trial":3,"muscle":"GM","t":7.81,"amp":0.19},{"trial":3,"muscle":"GM","t":8.23,"amp":0.226},{"trial":3,"muscle":"GM","t":8.44,"amp":0.208},{"trial":3,"muscle":"GM","t":8.72,"amp":0.195},{"trial":3,"muscle":"GM","t":9.0,"amp":0.224},{"trial":3,"muscle":"GM","t":9.28,"amp":0.242},{"trial":3,"muscle":"GM","t":9.5,"amp":0.226},{"trial":3,"muscle":"GM","t":9.78,"amp":0.245},{"trial":3,"muscle":"GM","t":10.13,"amp":0.24},{"trial":3,"muscle":"GM","t":10.41,"amp":0.224},{"trial":3,"muscle":"GM","t":10.69,"amp":0.232},{"trial":3,"muscle":"GM","t":10.9,"amp":0.21},{"trial":3,"muscle":"GM","t":11.11,"amp":0.226},{"trial":3,"muscle":"GM","t":11.32,"amp":0.26},{"trial":3,"muscle":"GM","t":11.6,"amp":0.238},{"trial":3,"muscle":"GM","t":11.95,"amp":0.224},{"trial":3,"muscle":"GM","t":12.37,"amp":0.235},{"trial":3,"muscle":"GM","t":12.58,"amp":0.221},{"trial":3,"muscle":"GM","t":12.86,"amp":0.242},{"trial":3,"muscle":"GM","t":13.21,"amp":0.243},{"trial":3,"muscle":"GM","t":13.56,"amp":0.221},{"trial":3,"muscle":"GM","t":13.98,"amp":0.233},{"trial":3,"muscle":"GM","t":14.33,"amp":0.216},{"trial":3,"muscle":"GM","t":14.61,"amp":0.235},{"trial":3,"muscle":"GM","t":14.89,"amp":0.219},{"trial":3,"muscle":"GM","t":15.22,"amp":0.231},{"trial":3,"muscle":"GM","t":15.6,"amp":0.204},{"trial":3,"muscle":"GM","t":15.81,"amp":0.216},{"trial":3,"muscle":"GM","t":16.09,"amp":0.203},{"trial":3,"muscle":"GM","t":16.44,"amp":0.217},{"trial":3,"muscle":"GM","t":16.65,"amp":0.211},{"trial":3,"muscle":"GM","t":16.79,"amp":0.217},{"trial":3,"muscle":"GM","t":17.07,"amp":0.198},{"trial":3,"muscle":"GM","t":17.28,"amp":0.203},{"trial":3,"muscle":"GM","t":17.56,"amp":0.202},{"trial":3,"muscle":"GM","t":17.91,"amp":0.178},{"trial":3,"muscle":"GM","t":18.12,"amp":0.185},{"trial":3,"muscle":"GM","t":18.4,"amp":0.185},{"trial":3,"muscle":"GM","t":18.68,"amp":0.18},{"trial":3,"muscle":"GM","t":19.0,"amp":0.17},{"trial":3,"muscle":"GM","t":19.27,"amp":0.169},{"trial":3,"muscle":"GM","t":19.55,"amp":0.17},{"trial":3,"muscle":"GM","t":19.83,"amp":0.168},{"trial":3,"muscle":"GM","t":20.14,"amp":0.176},{"trial":3,"muscle":"GM","t":20.53,"amp":0.159},{"trial":3,"muscle":"GM","t":20.81,"amp":0.17},{"trial":3,"muscle":"GM","t":21.12,"amp":0.18},{"trial":3,"muscle":"GM","t":21.44,"amp":0.17},{"trial":3,"muscle":"GM","t":21.86,"amp":0.145},{"trial":3,"muscle":"GM","t":22.07,"amp":0.147},{"trial":3,"muscle":"GM","t":22.35,"amp":0.132},{"trial":3,"muscle":"GM","t":22.7,"amp":0.147},{"trial":3,"muscle":"GM","t":22.98,"amp":0.139},{"trial":3,"muscle":"GM","t":23.26,"amp":0.129},{"trial":3,"muscle":"GM","t":23.47,"amp":0.139},{"trial":3,"muscle":"GM","t":23.66,"amp":0.131},{"trial":3,"muscle":"GM","t":23.82,"amp":0.139},{"trial":3,"muscle":"GM","t":24.03,"amp":0.129},{"trial":3,"muscle":"GM","t":24.17,"amp":0.134},{"trial":3,"muscle":"GM","t":24.45,"amp":0.12},{"trial":3,"muscle":"GM","t":24.73,"amp":0.138},{"trial":3,"muscle":"GM","t":25.01,"amp":0.141},{"trial":3,"muscle":"GM","t":25.27,"amp":0.129},{"trial":3,"muscle":"GM","t":25.46,"amp":0.145},{"trial":3,"muscle":"GM","t":25.78,"amp":0.117},{"trial":3,"muscle":"GM","t":26.06,"amp":0.091},{"trial":3,"muscle":"GM","t":26.34,"amp":0.063},{"trial":3,"muscle":"GM","t":26.55,"amp":0.071},{"trial":3,"muscle":"GM","t":26.83,"amp":0.051},{"trial":3,"muscle":"GM","t":27.11,"amp":0.028},{"trial":3,"muscle":"GM","t":27.39,"amp":0.015},{"trial":3,"muscle":"GM","t":27.75,"amp":0.014},{"trial":3,"muscle":"GM","t":28.1,"amp":0.01},{"trial":3,"muscle":"GM","t":28.52,"amp":0.0038},{"trial":3,"muscle":"GM","t":28.94,"amp":0.0025},{"trial":3,"muscle":"GM","t":29.64,"amp":0.002},{"trial":3,"muscle":"GM","t":30.06,"amp":0.0013},{"trial":3,"muscle":"GM","t":30.27,"amp":0},{"trial":3,"muscle":"GM","t":37.34,"amp":0},
      {"trial":3,"muscle":"GL","t":0,"amp":0},{"trial":3,"muscle":"GL","t":5.64,"amp":0},{"trial":3,"muscle":"GL","t":5.99,"amp":0.018},{"trial":3,"muscle":"GL","t":6.27,"amp":0.036},{"trial":3,"muscle":"GL","t":6.48,"amp":0.056},{"trial":3,"muscle":"GL","t":6.69,"amp":0.084},{"trial":3,"muscle":"GL","t":6.9,"amp":0.072},{"trial":3,"muscle":"GL","t":7.11,"amp":0.109},{"trial":3,"muscle":"GL","t":7.39,"amp":0.119},{"trial":3,"muscle":"GL","t":7.74,"amp":0.118},{"trial":3,"muscle":"GL","t":8.02,"amp":0.15},{"trial":3,"muscle":"GL","t":8.23,"amp":0.17},{"trial":3,"muscle":"GL","t":8.44,"amp":0.157},{"trial":3,"muscle":"GL","t":8.65,"amp":0.151},{"trial":3,"muscle":"GL","t":8.93,"amp":0.161},{"trial":3,"muscle":"GL","t":9.21,"amp":0.186},{"trial":3,"muscle":"GL","t":9.52,"amp":0.166},{"trial":3,"muscle":"GL","t":9.78,"amp":0.192},{"trial":3,"muscle":"GL","t":10.06,"amp":0.231},{"trial":3,"muscle":"GL","t":10.41,"amp":0.233},{"trial":3,"muscle":"GL","t":10.62,"amp":0.213},{"trial":3,"muscle":"GL","t":10.9,"amp":0.184},{"trial":3,"muscle":"GL","t":11.11,"amp":0.203},{"trial":3,"muscle":"GL","t":11.32,"amp":0.216},{"trial":3,"muscle":"GL","t":11.6,"amp":0.192},{"trial":3,"muscle":"GL","t":12.02,"amp":0.174},{"trial":3,"muscle":"GL","t":12.3,"amp":0.162},{"trial":3,"muscle":"GL","t":12.58,"amp":0.151},{"trial":3,"muscle":"GL","t":12.79,"amp":0.161},{"trial":3,"muscle":"GL","t":13.11,"amp":0.176},{"trial":3,"muscle":"GL","t":13.49,"amp":0.159},{"trial":3,"muscle":"GL","t":13.77,"amp":0.15},{"trial":3,"muscle":"GL","t":14.05,"amp":0.159},{"trial":3,"muscle":"GL","t":14.26,"amp":0.148},{"trial":3,"muscle":"GL","t":14.54,"amp":0.152},{"trial":3,"muscle":"GL","t":14.82,"amp":0.157},{"trial":3,"muscle":"GL","t":15.03,"amp":0.145},{"trial":3,"muscle":"GL","t":15.24,"amp":0.159},{"trial":3,"muscle":"GL","t":15.53,"amp":0.137},{"trial":3,"muscle":"GL","t":15.67,"amp":0.129},{"trial":3,"muscle":"GL","t":15.88,"amp":0.134},{"trial":3,"muscle":"GL","t":16.3,"amp":0.132},{"trial":3,"muscle":"GL","t":16.58,"amp":0.129},{"trial":3,"muscle":"GL","t":16.93,"amp":0.109},{"trial":3,"muscle":"GL","t":17.21,"amp":0.115},{"trial":3,"muscle":"GL","t":17.42,"amp":0.105},{"trial":3,"muscle":"GL","t":17.63,"amp":0.109},{"trial":3,"muscle":"GL","t":17.77,"amp":0.103},{"trial":3,"muscle":"GL","t":18.05,"amp":0.114},{"trial":3,"muscle":"GL","t":18.4,"amp":0.112},{"trial":3,"muscle":"GL","t":18.75,"amp":0.123},{"trial":3,"muscle":"GL","t":19.0,"amp":0.108},{"trial":3,"muscle":"GL","t":19.48,"amp":0.09},{"trial":3,"muscle":"GL","t":19.97,"amp":0.107},{"trial":3,"muscle":"GL","t":20.39,"amp":0.09},{"trial":3,"muscle":"GL","t":20.81,"amp":0.095},{"trial":3,"muscle":"GL","t":21.16,"amp":0.101},{"trial":3,"muscle":"GL","t":21.58,"amp":0.093},{"trial":3,"muscle":"GL","t":21.86,"amp":0.085},{"trial":3,"muscle":"GL","t":22.21,"amp":0.093},{"trial":3,"muscle":"GL","t":22.66,"amp":0.101},{"trial":3,"muscle":"GL","t":22.91,"amp":0.09},{"trial":3,"muscle":"GL","t":23.26,"amp":0.094},{"trial":3,"muscle":"GL","t":23.58,"amp":0.086},{"trial":3,"muscle":"GL","t":23.82,"amp":0.091},{"trial":3,"muscle":"GL","t":24.24,"amp":0.096},{"trial":3,"muscle":"GL","t":24.66,"amp":0.084},{"trial":3,"muscle":"GL","t":24.87,"amp":0.085},{"trial":3,"muscle":"GL","t":25.15,"amp":0.094},{"trial":3,"muscle":"GL","t":25.29,"amp":0.086},{"trial":3,"muscle":"GL","t":25.46,"amp":0.1},{"trial":3,"muscle":"GL","t":25.64,"amp":0.089},{"trial":3,"muscle":"GL","t":25.85,"amp":0.093},{"trial":3,"muscle":"GL","t":26.34,"amp":0.066},{"trial":3,"muscle":"GL","t":26.62,"amp":0.077},{"trial":3,"muscle":"GL","t":26.9,"amp":0.072},{"trial":3,"muscle":"GL","t":27.39,"amp":0.055},{"trial":3,"muscle":"GL","t":27.75,"amp":0.058},{"trial":3,"muscle":"GL","t":28.1,"amp":0.048},{"trial":3,"muscle":"GL","t":28.45,"amp":0.042},{"trial":3,"muscle":"GL","t":28.73,"amp":0.053},{"trial":3,"muscle":"GL","t":29.01,"amp":0.041},{"trial":3,"muscle":"GL","t":29.36,"amp":0.03},{"trial":3,"muscle":"GL","t":29.64,"amp":0.023},{"trial":3,"muscle":"GL","t":29.78,"amp":0.011},{"trial":3,"muscle":"GL","t":29.95,"amp":0.016},{"trial":3,"muscle":"GL","t":30.2,"amp":0.005},{"trial":3,"muscle":"GL","t":30.48,"amp":0},{"trial":3,"muscle":"GL","t":37.34,"amp":0},
      {"trial":3,"muscle":"SO","t":0,"amp":0},{"trial":3,"muscle":"SO","t":5.64,"amp":0},{"trial":3,"muscle":"SO","t":5.99,"amp":0.0025},{"trial":3,"muscle":"SO","t":6.34,"amp":0.0038},{"trial":3,"muscle":"SO","t":6.62,"amp":0.01},{"trial":3,"muscle":"SO","t":6.83,"amp":0.009},{"trial":3,"muscle":"SO","t":7.11,"amp":0.011},{"trial":3,"muscle":"SO","t":7.74,"amp":0.011},{"trial":3,"muscle":"SO","t":8.09,"amp":0.015},{"trial":3,"muscle":"SO","t":8.44,"amp":0.013},{"trial":3,"muscle":"SO","t":8.86,"amp":0.013},{"trial":3,"muscle":"SO","t":9.21,"amp":0.016},{"trial":3,"muscle":"SO","t":9.5,"amp":0.015},{"trial":3,"muscle":"SO","t":9.78,"amp":0.0216},{"trial":3,"muscle":"SO","t":9.99,"amp":0.024},{"trial":3,"muscle":"SO","t":10.27,"amp":0.037},{"trial":3,"muscle":"SO","t":10.48,"amp":0.032},{"trial":3,"muscle":"SO","t":10.76,"amp":0.027},{"trial":3,"muscle":"SO","t":11.11,"amp":0.032},{"trial":3,"muscle":"SO","t":11.46,"amp":0.029},{"trial":3,"muscle":"SO","t":11.88,"amp":0.029},{"trial":3,"muscle":"SO","t":12.23,"amp":0.033},{"trial":3,"muscle":"SO","t":12.58,"amp":0.029},{"trial":3,"muscle":"SO","t":13.0,"amp":0.034},{"trial":3,"muscle":"SO","t":13.35,"amp":0.03},{"trial":3,"muscle":"SO","t":13.7,"amp":0.033},{"trial":3,"muscle":"SO","t":14.05,"amp":0.032},{"trial":3,"muscle":"SO","t":14.47,"amp":0.033},{"trial":3,"muscle":"SO","t":14.82,"amp":0.034},{"trial":3,"muscle":"SO","t":15.24,"amp":0.036},{"trial":3,"muscle":"SO","t":15.67,"amp":0.037},{"trial":3,"muscle":"SO","t":16.09,"amp":0.038},{"trial":3,"muscle":"SO","t":16.44,"amp":0.042},{"trial":3,"muscle":"SO","t":16.65,"amp":0.037},{"trial":3,"muscle":"SO","t":17.0,"amp":0.044},{"trial":3,"muscle":"SO","t":17.42,"amp":0.044},{"trial":3,"muscle":"SO","t":17.77,"amp":0.041},{"trial":3,"muscle":"SO","t":18.12,"amp":0.043},{"trial":3,"muscle":"SO","t":18.54,"amp":0.047},{"trial":3,"muscle":"SO","t":19.0,"amp":0.046},{"trial":3,"muscle":"SO","t":19.27,"amp":0.044},{"trial":3,"muscle":"SO","t":19.62,"amp":0.048},{"trial":3,"muscle":"SO","t":20.04,"amp":0.049},{"trial":3,"muscle":"SO","t":20.39,"amp":0.046},{"trial":3,"muscle":"SO","t":20.74,"amp":0.052},{"trial":3,"muscle":"SO","t":21.16,"amp":0.052},{"trial":3,"muscle":"SO","t":21.58,"amp":0.049},{"trial":3,"muscle":"SO","t":21.93,"amp":0.051},{"trial":3,"muscle":"SO","t":22.42,"amp":0.051},{"trial":3,"muscle":"SO","t":22.77,"amp":0.049},{"trial":3,"muscle":"SO","t":23.19,"amp":0.051},{"trial":3,"muscle":"SO","t":23.61,"amp":0.049},{"trial":3,"muscle":"SO","t":23.96,"amp":0.052},{"trial":3,"muscle":"SO","t":24.45,"amp":0.041},{"trial":3,"muscle":"SO","t":24.8,"amp":0.044},{"trial":3,"muscle":"SO","t":25.15,"amp":0.046},{"trial":3,"muscle":"SO","t":25.43,"amp":0.049},{"trial":3,"muscle":"SO","t":25.78,"amp":0.046},{"trial":3,"muscle":"SO","t":26.2,"amp":0.046},{"trial":3,"muscle":"SO","t":26.62,"amp":0.046},{"trial":3,"muscle":"SO","t":27.04,"amp":0.043},{"trial":3,"muscle":"SO","t":27.39,"amp":0.036},{"trial":3,"muscle":"SO","t":27.74,"amp":0.038},{"trial":3,"muscle":"SO","t":28.1,"amp":0.033},{"trial":3,"muscle":"SO","t":28.38,"amp":0.028},{"trial":3,"muscle":"SO","t":28.66,"amp":0.034},{"trial":3,"muscle":"SO","t":29.01,"amp":0.028},{"trial":3,"muscle":"SO","t":29.36,"amp":0.024},{"trial":3,"muscle":"SO","t":29.71,"amp":0.016},{"trial":3,"muscle":"SO","t":30.06,"amp":0.016},{"trial":3,"muscle":"SO","t":30.41,"amp":0.015},{"trial":3,"muscle":"SO","t":30.83,"amp":0.015},{"trial":3,"muscle":"SO","t":31.32,"amp":0.014},{"trial":3,"muscle":"SO","t":31.6,"amp":0.0063},{"trial":3,"muscle":"SO","t":31.81,"amp":0},{"trial":3,"muscle":"SO","t":37.34,"amp":0}
    ]
  },
  "resolve": {"scale": {"color": "independent"}, "legend": {"color": "independent"}},
  "vconcat": [
    {
      "spacing": 127,
      "resolve": {"scale": {"color": "independent"}, "legend": {"color": "independent"}},
      "hconcat": [
        {
          "title": "BEFORE, 30 % MVC torque, trial 1",
          "width": 2781,
          "height": 545,
          "data": {"name": "lines"},
          "transform": [{"filter": "datum.trial == 1"}],
          "layer": [
            {
              "mark": {"type": "line", "strokeWidth": 2.5, "interpolate": "monotone"},
              "encoding": {
                "x": {"field": "t", "type": "quantitative", "scale": {"domain": [0, 40], "nice": false}, "axis": {"values": [0, 5, 10, 15, 20, 25, 30, 35, 40], "title": null, "labelFlush": false, "tickSize": -27, "labelPadding": 59}},
                "y": {"field": "amp", "type": "quantitative", "scale": {"domain": [0, 0.25], "nice": false}, "axis": {"values": [0, 0.05, 0.1, 0.15, 0.2, 0.25], "format": ".2~f", "title": "amplitude (a.u.)", "tickSize": -27, "labelPadding": 34, "titleFont": "DejaVu Sans", "titleFontSize": 57, "titlePadding": 52}},
                "color": {"field": "muscle", "type": "nominal", "scale": {"domain": ["TA", "GM", "GL", "SO"], "range": ["#0072bd", "#d95319", "#edb120", "#7e2f8e"]},
                  "legend": {"title": null, "orient": "none", "legendX": 2451, "legendY": 37, "fillColor": "white", "strokeColor": "#262626", "padding": 17, "symbolType": "stroke", "symbolSize": 16900, "symbolStrokeWidth": 3, "clipHeight": 40, "rowPadding": 10, "labelOffset": 8, "labelFont": "Lato", "labelFontSize": 47, "labelColor": "#000000"}}
              }
            },
            {
              "mark": {"type": "line", "strokeOpacity": 0},
              "encoding": {
                "x": {"field": "t", "type": "quantitative", "axis": {"orient": "top", "values": [0, 5, 10, 15, 20, 25, 30, 35, 40], "labels": false, "title": null, "tickSize": -27, "minExtent": 0, "maxExtent": 0}},
                "y": {"field": "amp", "type": "quantitative", "axis": {"orient": "right", "values": [0, 0.05, 0.1, 0.15, 0.2, 0.25], "labels": false, "title": null, "tickSize": -27, "minExtent": 0, "maxExtent": 0}},
                "detail": {"field": "muscle"}
              }
            }
          ],
          "resolve": {"axis": {"x": "independent", "y": "independent"}}
        },
        {
          "width": 579,
          "height": 545,
          "data": {"name": "corr"},
          "transform": [{"filter": "datum.trial == 1"}],
          "encoding": {
            "x": {"field": "col", "type": "nominal", "sort": ["TA", "GM", "GL", "SO"], "axis": {"title": null, "labelAngle": 0, "ticks": false, "labelPadding": 32, "labelFontSize": 46}},
            "y": {"field": "row", "type": "nominal", "sort": ["TA", "GM", "GL", "SO"], "axis": {"title": null, "ticks": false, "labelPadding": 14, "labelFontSize": 46}}
          },
          "layer": [
            {
              "mark": "rect",
              "encoding": {
                "color": {"field": "r", "type": "quantitative",
                  "scale": {"type": "linear", "domain": [0, 0.1, 0.2, 0.3, 0.4, 0.43, 0.46, 0.49, 0.55, 0.58, 0.63, 0.66, 0.72, 0.78, 0.87, 0.92, 1], "range": ["#3e26a8", "#4640dd", "#4264f6", "#2e87f1", "#22a4e0", "#1fa9dc", "#12b4cd", "#0cbac5", "#33c29e", "#3dc590", "#5cc86a", "#70ca5c", "#b4c13c", "#dcbb33", "#fbbe37", "#f6e526", "#f9fb0e"], "interpolate": "rgb"},
                  "legend": {"type": "gradient", "direction": "vertical", "orient": "right", "offset": 30, "padding": 0, "gradientLength": 545, "gradientThickness": 63, "gradientStrokeColor": "#262626", "values": [0, 0.2, 0.4, 0.6, 0.8, 1], "format": ".1~f", "labelFont": "Lato", "labelFontSize": 43, "labelColor": "#262626", "labelOffset": 13, "labelBaseline": "middle", "labelOverlap": false, "title": "correlation coefficient", "titleOrient": "right", "titleAnchor": "middle", "titleAlign": "center", "titleBaseline": "middle", "titleLimit": 1200, "titleFont": "DejaVu Sans", "titleFontSize": 64, "titleFontWeight": "normal", "titleColor": "#000000", "titlePadding": 76, "encode": {"title": {"update": {"angle": {"value": 270}}}}}}
              }
            },
            {
              "mark": {"type": "text", "font": "Lato", "fontSize": 45},
              "encoding": {
                "text": {"field": "r", "type": "quantitative", "format": ".2f"},
                "color": {"condition": {"test": "datum.r < 0.8", "value": "#ffffff"}, "value": "#000000"}
              }
            }
          ]
        }
      ]
    },
    {
      "spacing": 127,
      "resolve": {"scale": {"color": "independent"}, "legend": {"color": "independent"}},
      "hconcat": [
        {
          "title": "BEFORE, 30 % MVC torque, trial 2",
          "width": 2781,
          "height": 545,
          "data": {"name": "lines"},
          "transform": [{"filter": "datum.trial == 2"}],
          "layer": [
            {
              "mark": {"type": "line", "strokeWidth": 2.5, "interpolate": "monotone"},
              "encoding": {
                "x": {"field": "t", "type": "quantitative", "scale": {"domain": [0, 40], "nice": false}, "axis": {"values": [0, 5, 10, 15, 20, 25, 30, 35, 40], "title": null, "labelFlush": false, "tickSize": -27, "labelPadding": 59}},
                "y": {"field": "amp", "type": "quantitative", "scale": {"domain": [0, 0.3], "nice": false}, "axis": {"values": [0, 0.1, 0.2, 0.3], "format": ".2~f", "title": "amplitude (a.u.)", "tickSize": -27, "labelPadding": 34, "titleFont": "DejaVu Sans", "titleFontSize": 57, "titlePadding": 52}},
                "color": {"field": "muscle", "type": "nominal", "scale": {"domain": ["TA", "GM", "GL", "SO"], "range": ["#0072bd", "#d95319", "#edb120", "#7e2f8e"]},
                  "legend": {"title": null, "orient": "none", "legendX": 2464, "legendY": 44, "fillColor": "white", "strokeColor": "#262626", "padding": 17, "symbolType": "stroke", "symbolSize": 16900, "symbolStrokeWidth": 3, "clipHeight": 40, "rowPadding": 10, "labelOffset": 8, "labelFont": "Lato", "labelFontSize": 47, "labelColor": "#000000"}}
              }
            },
            {
              "mark": {"type": "line", "strokeOpacity": 0},
              "encoding": {
                "x": {"field": "t", "type": "quantitative", "axis": {"orient": "top", "values": [0, 5, 10, 15, 20, 25, 30, 35, 40], "labels": false, "title": null, "tickSize": -27, "minExtent": 0, "maxExtent": 0}},
                "y": {"field": "amp", "type": "quantitative", "axis": {"orient": "right", "values": [0, 0.1, 0.2, 0.3], "labels": false, "title": null, "tickSize": -27, "minExtent": 0, "maxExtent": 0}},
                "detail": {"field": "muscle"}
              }
            }
          ],
          "resolve": {"axis": {"x": "independent", "y": "independent"}}
        },
        {
          "width": 579,
          "height": 545,
          "data": {"name": "corr"},
          "transform": [{"filter": "datum.trial == 2"}],
          "encoding": {
            "x": {"field": "col", "type": "nominal", "sort": ["TA", "GM", "GL", "SO"], "axis": {"title": null, "labelAngle": 0, "ticks": false, "labelPadding": 32, "labelFontSize": 46}},
            "y": {"field": "row", "type": "nominal", "sort": ["TA", "GM", "GL", "SO"], "axis": {"title": null, "ticks": false, "labelPadding": 14, "labelFontSize": 46}}
          },
          "layer": [
            {
              "mark": "rect",
              "encoding": {
                "color": {"field": "r", "type": "quantitative",
                  "scale": {"type": "linear", "domain": [0, 0.1, 0.2, 0.3, 0.4, 0.43, 0.46, 0.49, 0.55, 0.58, 0.63, 0.66, 0.72, 0.78, 0.87, 0.92, 1], "range": ["#3e26a8", "#4640dd", "#4264f6", "#2e87f1", "#22a4e0", "#1fa9dc", "#12b4cd", "#0cbac5", "#33c29e", "#3dc590", "#5cc86a", "#70ca5c", "#b4c13c", "#dcbb33", "#fbbe37", "#f6e526", "#f9fb0e"], "interpolate": "rgb"},
                  "legend": {"type": "gradient", "direction": "vertical", "orient": "right", "offset": 30, "padding": 0, "gradientLength": 545, "gradientThickness": 63, "gradientStrokeColor": "#262626", "values": [0, 0.2, 0.4, 0.6, 0.8, 1], "format": ".1~f", "labelFont": "Lato", "labelFontSize": 43, "labelColor": "#262626", "labelOffset": 13, "labelBaseline": "middle", "labelOverlap": false, "title": "correlation coefficient", "titleOrient": "right", "titleAnchor": "middle", "titleAlign": "center", "titleBaseline": "middle", "titleLimit": 1200, "titleFont": "DejaVu Sans", "titleFontSize": 64, "titleFontWeight": "normal", "titleColor": "#000000", "titlePadding": 76, "encode": {"title": {"update": {"angle": {"value": 270}}}}}}
              }
            },
            {
              "mark": {"type": "text", "font": "Lato", "fontSize": 45},
              "encoding": {
                "text": {"field": "r", "type": "quantitative", "format": ".2f"},
                "color": {"condition": {"test": "datum.r < 0.8", "value": "#ffffff"}, "value": "#000000"}
              }
            }
          ]
        }
      ]
    },
    {
      "spacing": 127,
      "resolve": {"scale": {"color": "independent"}, "legend": {"color": "independent"}},
      "hconcat": [
        {
          "title": "BEFORE, 30 % MVC torque, trial 3",
          "width": 2781,
          "height": 545,
          "data": {"name": "lines"},
          "transform": [{"filter": "datum.trial == 3"}],
          "layer": [
            {
              "mark": {"type": "line", "strokeWidth": 2.5, "interpolate": "monotone"},
              "encoding": {
                "x": {"field": "t", "type": "quantitative", "scale": {"domain": [0, 40], "nice": false}, "axis": {"values": [0, 5, 10, 15, 20, 25, 30, 35, 40], "title": "time (s)", "titleFontSize": 58, "titlePadding": 63, "labelFlush": false, "tickSize": -27, "labelPadding": 59}},
                "y": {"field": "amp", "type": "quantitative", "scale": {"domain": [0, 0.3], "nice": false}, "axis": {"values": [0, 0.1, 0.2, 0.3], "format": ".2~f", "title": "amplitude (a.u.)", "tickSize": -27, "labelPadding": 34, "titleFont": "DejaVu Sans", "titleFontSize": 57, "titlePadding": 52}},
                "color": {"field": "muscle", "type": "nominal", "scale": {"domain": ["TA", "GM", "GL", "SO"], "range": ["#0072bd", "#d95319", "#edb120", "#7e2f8e"]},
                  "legend": {"title": null, "orient": "none", "legendX": 2466, "legendY": 44, "fillColor": "white", "strokeColor": "#262626", "padding": 17, "symbolType": "stroke", "symbolSize": 16900, "symbolStrokeWidth": 3, "clipHeight": 40, "rowPadding": 10, "labelOffset": 8, "labelFont": "Lato", "labelFontSize": 47, "labelColor": "#000000"}}
              }
            },
            {
              "mark": {"type": "line", "strokeOpacity": 0},
              "encoding": {
                "x": {"field": "t", "type": "quantitative", "axis": {"orient": "top", "values": [0, 5, 10, 15, 20, 25, 30, 35, 40], "labels": false, "title": null, "tickSize": -27, "minExtent": 0, "maxExtent": 0}},
                "y": {"field": "amp", "type": "quantitative", "axis": {"orient": "right", "values": [0, 0.1, 0.2, 0.3], "labels": false, "title": null, "tickSize": -27, "minExtent": 0, "maxExtent": 0}},
                "detail": {"field": "muscle"}
              }
            }
          ],
          "resolve": {"axis": {"x": "independent", "y": "independent"}}
        },
        {
          "width": 579,
          "height": 545,
          "data": {"name": "corr"},
          "transform": [{"filter": "datum.trial == 3"}],
          "encoding": {
            "x": {"field": "col", "type": "nominal", "sort": ["TA", "GM", "GL", "SO"], "axis": {"title": null, "labelAngle": 0, "ticks": false, "labelPadding": 32, "labelFontSize": 46}},
            "y": {"field": "row", "type": "nominal", "sort": ["TA", "GM", "GL", "SO"], "axis": {"title": null, "ticks": false, "labelPadding": 14, "labelFontSize": 46}}
          },
          "layer": [
            {
              "mark": "rect",
              "encoding": {
                "color": {"field": "r", "type": "quantitative",
                  "scale": {"type": "linear", "domain": [0, 0.1, 0.2, 0.3, 0.4, 0.43, 0.46, 0.49, 0.55, 0.58, 0.63, 0.66, 0.72, 0.78, 0.87, 0.92, 1], "range": ["#3e26a8", "#4640dd", "#4264f6", "#2e87f1", "#22a4e0", "#1fa9dc", "#12b4cd", "#0cbac5", "#33c29e", "#3dc590", "#5cc86a", "#70ca5c", "#b4c13c", "#dcbb33", "#fbbe37", "#f6e526", "#f9fb0e"], "interpolate": "rgb"},
                  "legend": {"type": "gradient", "direction": "vertical", "orient": "right", "offset": 30, "padding": 0, "gradientLength": 545, "gradientThickness": 63, "gradientStrokeColor": "#262626", "values": [0, 0.2, 0.4, 0.6, 0.8, 1], "format": ".1~f", "labelFont": "Lato", "labelFontSize": 43, "labelColor": "#262626", "labelOffset": 13, "labelBaseline": "middle", "labelOverlap": false, "title": "correlation coefficient", "titleOrient": "right", "titleAnchor": "middle", "titleAlign": "center", "titleBaseline": "middle", "titleLimit": 1200, "titleFont": "DejaVu Sans", "titleFontSize": 64, "titleFontWeight": "normal", "titleColor": "#000000", "titlePadding": 76, "encode": {"title": {"update": {"angle": {"value": 270}}}}}}
              }
            },
            {
              "mark": {"type": "text", "font": "Lato", "fontSize": 45},
              "encoding": {
                "text": {"field": "r", "type": "quantitative", "format": ".2f"},
                "color": {"condition": {"test": "datum.r < 0.8", "value": "#ffffff"}, "value": "#000000"}
              }
            }
          ]
        }
      ]
    }
  ]
}
